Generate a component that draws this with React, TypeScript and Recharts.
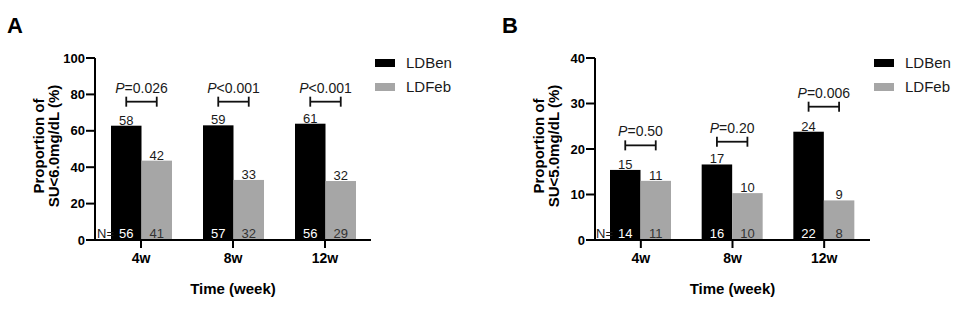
import React from 'react'
import { BarChart, Bar, XAxis, YAxis } from 'recharts'

const FONT = '"Liberation Sans", Arial, sans-serif'
const BEN = '#000000'
const FEB = '#a6a6a6'

const categories = ['4w', '8w', '12w']
const seriesNames = ['LDBen', 'LDFeb']

// panel A: SU < 6.0 mg/dL
const aBen = [62.8, 63, 63.9]
const aFeb = [43.6, 33, 32.4]
const aBenLabel = [58, 59, 61]
const aFebLabel = [42, 33, 32]
const aBenN = [56, 57, 56]
const aFebN = [41, 32, 29]
const aBracket = [76, 76, 76]
const aP = ['=0.026', '<0.001', '<0.001']
const aTicks = [0, 20, 40, 60, 80, 100]

// panel B: SU < 5.0 mg/dL
const bBen = [15.4, 16.6, 23.8]
const bFeb = [13, 10.3, 8.7]
const bBenLabel = [15, 17, 24]
const bFebLabel = [11, 10, 9]
const bBenN = [14, 16, 22]
const bFebN = [11, 10, 8]
const bBracket = [20.8, 21.6, 29.3]
const bP = ['=0.50', '=0.20', '=0.006']
const bTicks = [0, 10, 20, 30, 40]

interface PanelProps {
  letter: string
  yTitle: string
  ben: number[]
  feb: number[]
  benLabel: number[]
  febLabel: number[]
  benN: number[]
  febN: number[]
  bracket: number[]
  pText: string[]
  ticks: number[]
  axisWidth: number
  marginRight: number
}

function Panel(p: PanelProps) {
  const data = categories.map((c, i) => ({
    cat: c,
    ben: p.ben[i],
    feb: p.feb[i],
    benLabel: p.benLabel[i],
    febLabel: p.febLabel[i],
    benN: p.benN[i],
    febN: p.febN[i],
    bracket: p.bracket[i],
    pText: p.pText[i],
  }))
  const top = p.ticks[p.ticks.length - 1]

  const benShape = (s: any) => {
    const { x, y, width, height, payload, index } = s
    const base = y + height
    const perUnit = height / payload.ben
    const by = base - payload.bracket * perUnit
    const x1 = x + width / 2
    const x2 = x + width * 1.5
    return (
      <g>
        <rect x={x} y={y} width={width} height={height} fill={BEN} />
        <text x={x1} y={y - 1} textAnchor="middle" fontSize={13} fontFamily={FONT} fill="#1a1a1a">
          {payload.benLabel}
        </text>
        <text x={x1} y={base - 2} textAnchor="middle" fontSize={13} fontFamily={FONT} fill="#fff">
          {payload.benN}
        </text>
        {index === 0 && (
          <text x={x - 14} y={base - 2} fontSize={13} fontFamily={FONT} fill="#1a1a1a">N=</text>
        )}
        <g stroke="#111" strokeWidth={1.8}>
          <line x1={x1} x2={x2} y1={by} y2={by} />
          <line x1={x1} x2={x1} y1={by - 5} y2={by + 5} />
          <line x1={x2} x2={x2} y1={by - 5} y2={by + 5} />
        </g>
        <text x={(x1 + x2) / 2} y={by - 9} textAnchor="middle" fontSize={14} fontFamily={FONT} fill="#1a1a1a">
          <tspan fontStyle="italic">P</tspan>{payload.pText}
        </text>
      </g>
    )
  }

  const febShape = (s: any) => {
    const { x, y, width, height, payload } = s
    const cx = x + width / 2
    return (
      <g>
        <rect x={x} y={y} width={width} height={height} fill={FEB} />
        <text x={cx} y={y - 1} textAnchor="middle" fontSize={13} fontFamily={FONT} fill="#1a1a1a">
          {payload.febLabel}
        </text>
        <text x={cx} y={y + height - 2} textAnchor="middle" fontSize={13} fontFamily={FONT} fill="#333">
          {payload.febN}
        </text>
      </g>
    )
  }

  const plotLeft = p.axisWidth
  const plotRight = 480 - p.marginRight
  const [line1, line2] = p.yTitle.split('\n')

  return (
    <div style={{ position: 'relative', width: 480, height: 311 }}>
      <BarChart width={480} height={311} data={data} barGap={0} barSize={30.5}
        margin={{ top: 58, right: p.marginRight, bottom: 41, left: 0 }}>
        <XAxis dataKey="cat" height={30} axisLine={{ stroke: '#000', strokeWidth: 2 }}
          tickLine={{ stroke: '#000', strokeWidth: 2 }} tickSize={8} tickMargin={5}
          tick={{ fill: '#000', fontSize: 14, fontWeight: 'bold', fontFamily: FONT }} />
        <YAxis width={p.axisWidth} domain={[0, top]} ticks={p.ticks} interval={0}
          axisLine={{ stroke: '#000', strokeWidth: 2 }} tickLine={{ stroke: '#000', strokeWidth: 2 }}
          tickSize={9} tickMargin={1}
          tick={{ fill: '#000', fontSize: 13, fontWeight: 'bold', fontFamily: FONT }} />
        <Bar dataKey="ben" name={seriesNames[0]} fill={BEN} shape={benShape} isAnimationActive={false} />
        <Bar dataKey="feb" name={seriesNames[1]} fill={FEB} shape={febShape} isAnimationActive={false} />
      </BarChart>
      <svg width={480} height={311} style={{ position: 'absolute', left: 0, top: 0, pointerEvents: 'none' }}
        fontFamily={FONT}>
        <text x={p.letter === 'A' ? 7 : 22} y={33} fontSize={22} fontWeight="bold">{p.letter}</text>
        <text transform={`translate(${plotLeft - 51},146) rotate(-90)`} textAnchor="middle"
          fontSize={15} fontWeight="bold">{line1}</text>
        <text transform={`translate(${plotLeft - 36},146) rotate(-90)`} textAnchor="middle"
          fontSize={15} fontWeight="bold">{line2}</text>
        <text x={(plotLeft + plotRight) / 2} y={294} textAnchor="middle" fontSize={15}
          fontWeight="bold">Time (week)</text>
        {seriesNames.map((n, i) => (
          <g key={n}>
            <rect x={plotRight + 4} y={59 + i * 24} width={20} height={8} fill={i === 0 ? BEN : FEB} />
            <text x={plotRight + 35} y={67.5 + i * 24} fontSize={15} fill="#1a1a1a">{n}</text>
          </g>
        ))}
      </svg>
    </div>
  )
}

export default function App() {
  return (
    <div style={{ position: 'absolute', left: 0, top: 0, width: 960, height: 311, display: 'flex', background: '#fff' }}>
      <Panel letter="A" yTitle={'Proportion of\nSU<6.0mg/dL (%)'} ben={aBen} feb={aFeb}
        benLabel={aBenLabel} febLabel={aFebLabel} benN={aBenN} febN={aFebN}
        bracket={aBracket} pText={aP} ticks={aTicks} axisWidth={95} marginRight={109} />
      <Panel letter="B" yTitle={'Proportion of\nSU<5.0mg/dL (%)'} ben={bBen} feb={bFeb}
        benLabel={bBenLabel} febLabel={bFebLabel} benN={bBenN} febN={bFebN}
        bracket={bBracket} pText={bP} ticks={bTicks} axisWidth={115} marginRight={90} />
    </div>
  )
}
